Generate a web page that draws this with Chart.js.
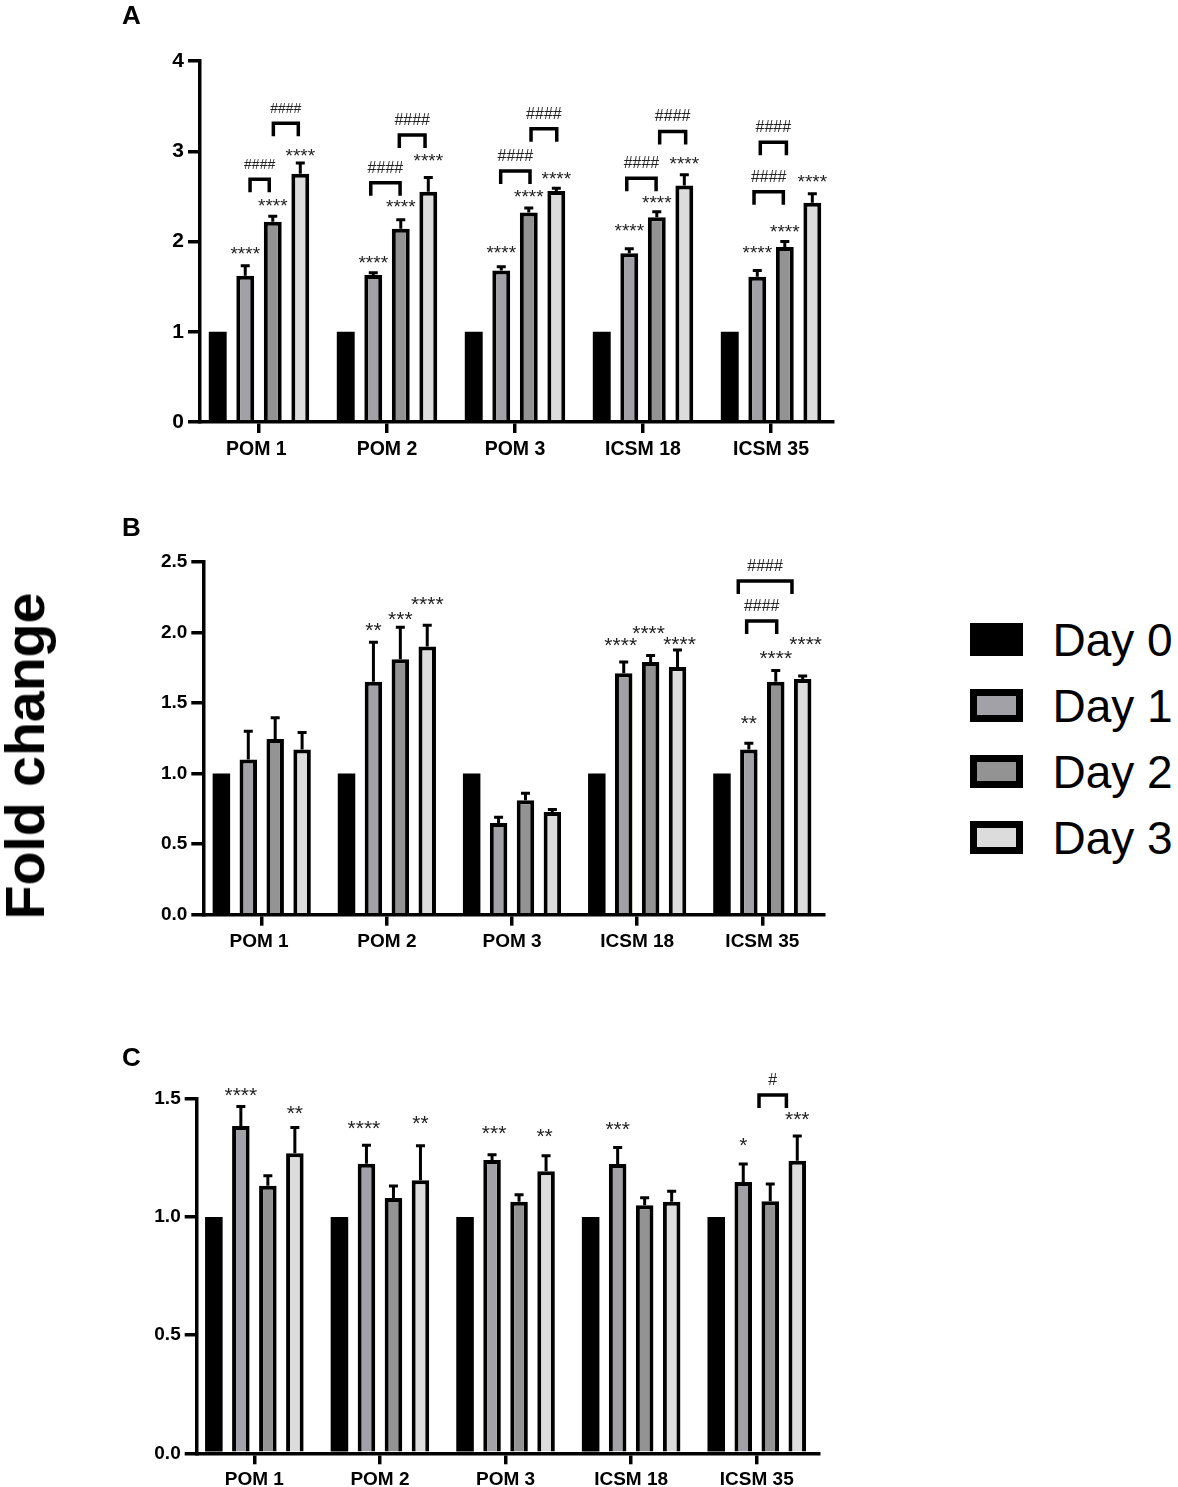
<!DOCTYPE html>
<html>
<head>
<meta charset="utf-8">
<script src="https://cdn.jsdelivr.net/npm/chart.js@4/dist/chart.umd.min.js"></script>
<style>
  html, body { margin: 0; padding: 0; background: #fff; }
  body { position: relative; width: 1178px; height: 1487px; overflow: hidden; font-family: "Liberation Sans", Arial, sans-serif; color: #000; }
  canvas { position: absolute; left: 0; }
  .letter { position: absolute; left: 122px; font-weight: bold; font-size: 26px; line-height: 26px; }
  #foldChange { position: absolute; left: 25px; top: 756px; font-weight: bold; font-size: 55.5px; line-height: 56px; white-space: nowrap; transform: translate(-50%, -50%) rotate(-90deg); }
  .legendBox { position: absolute; left: 970px; width: 53px; height: 33px; box-sizing: border-box; border: 7px solid #000; }
  .legendText { position: absolute; left: 1052.5px; font-size: 46px; line-height: 50px; white-space: nowrap; }
</style>
</head>
<body>
<canvas id="chartA" width="900" height="480" style="top:0"></canvas>
<canvas id="chartB" width="900" height="480" style="top:500px"></canvas>
<canvas id="chartC" width="900" height="487" style="top:1000px"></canvas>
<div class="letter" style="top:2px">A</div>
<div class="letter" style="top:514px">B</div>
<div class="letter" style="top:1044px">C</div>
<div id="foldChange">Fold change</div>
<div id="legend"></div>
<script>
const categories = ['POM 1', 'POM 2', 'POM 3', 'ICSM 18', 'ICSM 35'];
const days = ['Day 0', 'Day 1', 'Day 2', 'Day 3'];
const dayColors = ['#000000', '#a1a1a7', '#939393', '#dcdcdc'];
const day0 = [1, 1, 1, 1, 1];
const noErr = [0, 0, 0, 0, 0];

// panel A
const ticksA = [0, 1, 2, 3, 4];
const day1A = [1.62, 1.63, 1.68, 1.87, 1.61];
const day2A = [2.22, 2.14, 2.32, 2.27, 1.94];
const day3A = [2.75, 2.55, 2.56, 2.62, 2.43];
const err1A = [0.11, 0.025, 0.04, 0.05, 0.07];
const err2A = [0.06, 0.10, 0.05, 0.06, 0.06];
const err3A = [0.12, 0.16, 0.03, 0.12, 0.10];
// group, bar, y of the text, text, x nudge
const starsA = [
  [0, 1, 1.88, '****'], [0, 2, 2.41, '****'], [0, 3, 2.97, '****'],
  [1, 1, 1.78, '****'], [1, 2, 2.40, '****'], [1, 3, 2.91, '****'],
  [2, 1, 1.89, '****'], [2, 2, 2.51, '****'], [2, 3, 2.72, '****'],
  [3, 1, 2.14, '****'], [3, 2, 2.45, '****'], [3, 3, 2.88, '****'],
  [4, 1, 1.89, '****'], [4, 2, 2.13, '****'], [4, 3, 2.68, '****']
];
// x start, x end, y of the top line, text
const bracketsA = [
  [-0.07, 0.08, 2.69, '####'], [0.112, 0.307, 3.31, '####'],
  [0.873, 1.102, 2.65, '####'], [1.096, 1.297, 3.18, '####'],
  [1.888, 2.117, 2.78, '####'], [2.125, 2.326, 3.25, '####'],
  [2.873, 3.102, 2.70, '####'], [3.130, 3.333, 3.22, '####'],
  [3.867, 4.096, 2.55, '####'], [3.916, 4.120, 3.10, '####']
];

// panel B
const ticksB = [0, 0.5, 1, 1.5, 2, 2.5];
const day1B = [1.10, 1.65, 0.65, 1.71, 1.17];
const day2B = [1.245, 1.81, 0.81, 1.79, 1.65];
const day3B = [1.17, 1.90, 0.727, 1.755, 1.67];
const err1B = [0.20, 0.28, 0.04, 0.08, 0.045];
const err2B = [0.15, 0.225, 0.05, 0.045, 0.08];
const err3B = [0.12, 0.15, 0.018, 0.12, 0.02];
const starsB = [
  [1, 1, 2.03, '**'], [1, 2, 2.11, '***'], [1, 3, 2.21, '****'],
  [3, 1, 1.92, '****', -0.024], [3, 2, 2.01, '****', -0.016], [3, 3, 1.93, '****', 0.016],
  [4, 1, 1.37, '**'], [4, 2, 1.83, '****'], [4, 3, 1.93, '****', 0.024]
];
const bracketsB = [
  [3.875, 4.115, 2.08, '####'], [3.808, 4.237, 2.363, '####']
];

// panel C
const ticksC = [0, 0.5, 1, 1.5];
const day1C = [1.386, 1.226, 1.242, 1.225, 1.149];
const day2C = [1.133, 1.081, 1.065, 1.05, 1.067];
const day3C = [1.27, 1.156, 1.194, 1.065, 1.239];
const err1C = [0.082, 0.078, 0.022, 0.07, 0.076];
const err2C = [0.042, 0.051, 0.03, 0.032, 0.073];
const err3C = [0.109, 0.146, 0.066, 0.044, 0.104];
const starsC = [
  [0, 1, 1.524, '****'], [0, 3, 1.448, '**'],
  [1, 1, 1.387, '****', -0.02], [1, 3, 1.408, '**'],
  [2, 1, 1.362, '***', 0.016], [2, 3, 1.352, '**', -0.012],
  [3, 1, 1.38, '***'],
  [4, 1, 1.315, '*'], [4, 3, 1.422, '***']
];
const bracketsC = [
  [4.018, 4.236, 1.517, '#']
];

// error bars, stars and brackets, all placed through the chart scales
const annotations = {
  id: 'annotations',
  afterDatasetsDraw(chart, args, opts) {
    const ctx = chart.ctx, xs = chart.scales.x, ys = chart.scales.y;
    ctx.save();
    ctx.strokeStyle = '#000';
    ctx.lineCap = 'butt';

    ctx.lineWidth = 3;
    opts.errors.forEach((errs, d) => {
      chart.getDatasetMeta(d).data.forEach((bar, g) => {
        if (!errs[g]) return;
        const top = ys.getPixelForValue(chart.data.datasets[d].data[g].y + errs[g]);
        ctx.beginPath();
        ctx.moveTo(bar.x, bar.y);
        ctx.lineTo(bar.x, top);
        ctx.moveTo(bar.x - 4.5, top);
        ctx.lineTo(bar.x + 4.5, top);
        ctx.stroke();
      });
    });

    ctx.textAlign = 'center';
    ctx.textBaseline = 'alphabetic';
    ctx.fillStyle = '#222';
    ctx.font = opts.starSize + 'px "Liberation Sans"';
    opts.stars.forEach(([g, b, y, text, nudge]) => {
      const x = chart.getDatasetMeta(b).data[g].x + (nudge ? xs.getPixelForValue(nudge) - xs.getPixelForValue(0) : 0);
      ctx.fillText(text, x, ys.getPixelForValue(y) + opts.starSize * 0.42);
    });

    ctx.lineWidth = 3.5;
    ctx.lineJoin = 'miter';
    opts.brackets.forEach(([x0, x1, y, text]) => {
      const l = xs.getPixelForValue(x0), r = xs.getPixelForValue(x1), t = ys.getPixelForValue(y);
      ctx.beginPath();
      ctx.moveTo(l, t + 13);
      ctx.lineTo(l, t);
      ctx.lineTo(r, t);
      ctx.lineTo(r, t + 13);
      ctx.stroke();
      const size = opts.hashSize(x0);
      ctx.font = size + 'px "Liberation Sans"';
      ctx.fillText(text, (l + r) / 2, t - 15.5 + size * 0.35);
    });
    ctx.restore();
  }
};

function makePanel(id, p) {
  const canvas = document.getElementById(id);
  const series = [day0, p.day1, p.day2, p.day3];
  new Chart(canvas, {
    type: 'bar',
    data: {
      datasets: series.map((vals, d) => ({
        label: days[d],
        data: vals.map((v, i) => ({ x: i, y: v })),
        backgroundColor: dayColors[d],
        borderColor: '#000',
        borderWidth: d === 0 ? 0 : 4,
        borderSkipped: 'start',
        categoryPercentage: 0.86,
        barPercentage: 0.65
      }))
    },
    plugins: [annotations],
    options: {
      responsive: false,
      animation: false,
      layout: { padding: { top: p.top, right: canvas.width - p.right, left: 0, bottom: 0 } },
      plugins: {
        legend: { display: false },
        tooltip: { enabled: false },
        annotations: { errors: [noErr, p.err1, p.err2, p.err3], stars: p.stars, brackets: p.brackets, starSize: p.starSize, hashSize: p.hashSize }
      },
      scales: {
        x: {
          type: 'linear',
          offset: false,
          min: p.xMin,
          max: p.xMax,
          afterBuildTicks: s => { s.ticks = categories.map((c, i) => ({ value: i })); },
          afterFit: s => { s.height = canvas.height - p.bottom; },
          border: { display: true, color: '#000', width: 3.5 },
          grid: { offset: false, drawOnChartArea: false, drawTicks: true, color: '#000', lineWidth: 3.5, tickLength: 11 },
          ticks: {
            autoSkip: false,
            maxRotation: 0,
            padding: p.xPad,
            color: '#000',
            font: { family: 'Liberation Sans', weight: 'bold', size: p.xFont },
            // the first label in A and B sits a little left of its tick
            callback: v => categories[v] + (p.shiftFirst && v === 0 ? ' ' : '')
          }
        },
        y: {
          type: 'linear',
          min: 0,
          max: p.yTicks[p.yTicks.length - 1],
          afterBuildTicks: s => { s.ticks = p.yTicks.map(v => ({ value: v })); },
          afterFit: s => { s.width = p.left; },
          border: { display: true, color: '#000', width: 3.5 },
          grid: { drawOnChartArea: false, drawTicks: true, color: '#000', lineWidth: 3.5, tickLength: 12 },
          ticks: {
            padding: 4,
            color: '#000',
            font: { family: 'Liberation Sans', weight: 'bold', size: p.yFont },
            callback: v => v.toFixed(p.decimals)
          }
        }
      }
    }
  });
}

makePanel('chartA', {
  day1: day1A, day2: day2A, day3: day3A, err1: err1A, err2: err2A, err3: err3A,
  stars: starsA, brackets: bracketsA, yTicks: ticksA, decimals: 0,
  left: 200, right: 833, top: 61, bottom: 422,
  xMin: -0.461, xMax: 4.484, xFont: 19.5, yFont: 21, xPad: 5, starSize: 19,
  hashSize: x => x < 0.5 ? 14 : 16, shiftFirst: true
});
makePanel('chartB', {
  day1: day1B, day2: day2B, day3: day3B, err1: err1B, err2: err2B, err3: err3B,
  stars: starsB, brackets: bracketsB, yTicks: ticksB, decimals: 1,
  left: 203.3, right: 824, top: 61.7, bottom: 414.7,
  xMin: -0.467, xMax: 4.493, xFont: 19, yFont: 19, xPad: 5, starSize: 21,
  hashSize: () => 16, shiftFirst: true
});
makePanel('chartC', {
  day1: day1C, day2: day2C, day3: day3C, err1: err1C, err2: err2C, err3: err3C,
  stars: starsC, brackets: bracketsC, yTicks: ticksC, decimals: 1,
  left: 196.7, right: 818.3, top: 99, bottom: 453.3,
  xMin: -0.459, xMax: 4.49, xFont: 19, yFont: 19, xPad: 4, starSize: 21,
  hashSize: () => 16, shiftFirst: false
});

const legend = document.getElementById('legend');
days.forEach((d, i) => {
  const box = document.createElement('div');
  box.className = 'legendBox';
  box.style.top = (623 + 66 * i) + 'px';
  box.style.background = dayColors[i];
  legend.appendChild(box);
  const text = document.createElement('div');
  text.className = 'legendText';
  text.style.top = (615 + 66 * i) + 'px';
  text.textContent = d;
  legend.appendChild(text);
});
</script>
</body>
</html>
